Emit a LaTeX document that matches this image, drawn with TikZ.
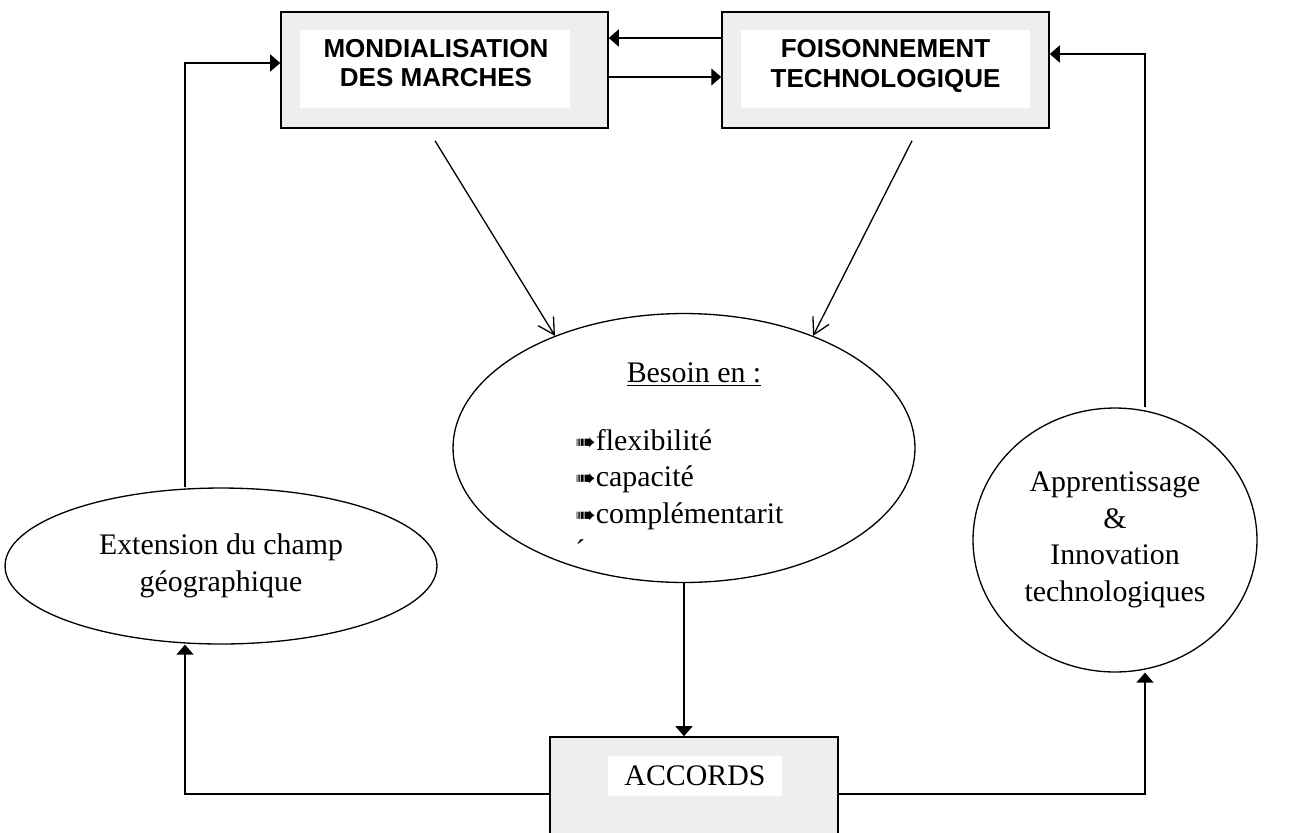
\documentclass[tikz,border=0pt]{standalone}
\usepackage{fontspec}
\setmainfont{Liberation Serif}
\newfontfamily\headfont{Liberation Sans}
\newfontfamily\symfont{DejaVu Sans}
\usetikzlibrary{arrows.meta, shapes.geometric}
\definecolor{boxgray}{HTML}{EEEEEE}
\newcommand\bul{{\symfont\fontsize{14}{14}\selectfont ➠}}

\begin{document}
\begin{tikzpicture}[
    x=0.02cm, y=-0.02cm,
    outer/.style={draw, line width=0.9pt, fill=boxgray, inner sep=0pt},
    inner/.style={fill=white, inner sep=0pt, align=center},
    head/.style={font=\headfont\bfseries\fontsize{14.8}{17}\selectfont, align=center},
    txt/.style={font=\fontsize{17}{20.8}\selectfont},
    oval/.style={draw, ellipse, line width=0.75pt, inner sep=0pt, align=center},
    ar/.style={-{Triangle[length=0.2cm, width=0.34cm]}, line width=0.75pt},
    op/.style={-{Straight Barb[length=0.32cm, width=0.36cm]}, line width=0.75pt}
  ]
  \useasboundingbox (0,0) rectangle (1307,832);
  \node[outer, minimum width=6.54cm, minimum height=2.32cm] (mond) at (444.5,70) {};
  \node[inner, minimum width=5.4cm, minimum height=1.56cm] (mondin) at (435,69) {};
  \node[head] (mondtxt) at (436,63) {MONDIALISATION\\DES MARCHES};
  \node[outer, minimum width=6.54cm, minimum height=2.32cm] (fois) at (885.5,70) {};
  \node[inner, minimum width=5.78cm, minimum height=1.56cm] (foisin) at (885.5,69) {};
  \node[head] (foistxt) at (885.5,66) {FOISONNEMENT\\TECHNOLOGIQUE};

  \node[oval, minimum width=9.24cm, minimum height=5.38cm] (bes) at (684,448) {};
  \node[txt, anchor=base] (bestitle) at (694,382) {\underline{Besoin en :}};
  \node[txt, anchor=base west, align=left, inner sep=0pt] (beslist) at (575,560)
    {\bul flexibilité\\\bul capacité\\\bul complémentarit\\´};

  \node[oval, txt, minimum width=8.64cm, minimum height=3.12cm] (ext) at (221,566)
    {Extension du champ\\géographique};
  \node[oval, txt, minimum width=5.68cm, minimum height=5.28cm] (app) at (1115,540)
    {Apprentissage\\\&\\Innovation\\technologiques};

  \node[outer, minimum width=5.76cm, minimum height=2.46cm] (acc) at (694,798.5) {};
  \node[inner, txt, minimum width=3.48cm, minimum height=0.8cm] (acctxt) at (695,776) {ACCORDS};

  \coordinate (lx) at (185,0);
  \coordinate (rx) at (1145,0);
  \draw[ar] ([yshift=0.64cm]fois.west) -- ([yshift=0.64cm]mond.east);
  \draw[ar] ([yshift=-0.14cm]mond.east) -- ([yshift=-0.14cm]fois.west);
  \draw[ar] (ext.north -| lx) |- ([yshift=0.14cm]mond.west);
  \draw[ar] (app.north -| rx) |- ([yshift=0.32cm]fois.east);
  \draw[op] ([xshift=-0.19cm, yshift=-0.24cm]mond.south) -- (bes.139);
  \draw[op] ([xshift=0.53cm, yshift=-0.24cm]fois.south) -- (bes.41);
  \draw[ar] (bes.south) -- (bes.south |- acc.north);
  \draw[ar] ([yshift=0.09cm]acc.west) -| (ext.south -| lx);
  \draw[ar] ([yshift=0.09cm]acc.east) -| (app.south -| rx);
\end{tikzpicture}
\end{document}
